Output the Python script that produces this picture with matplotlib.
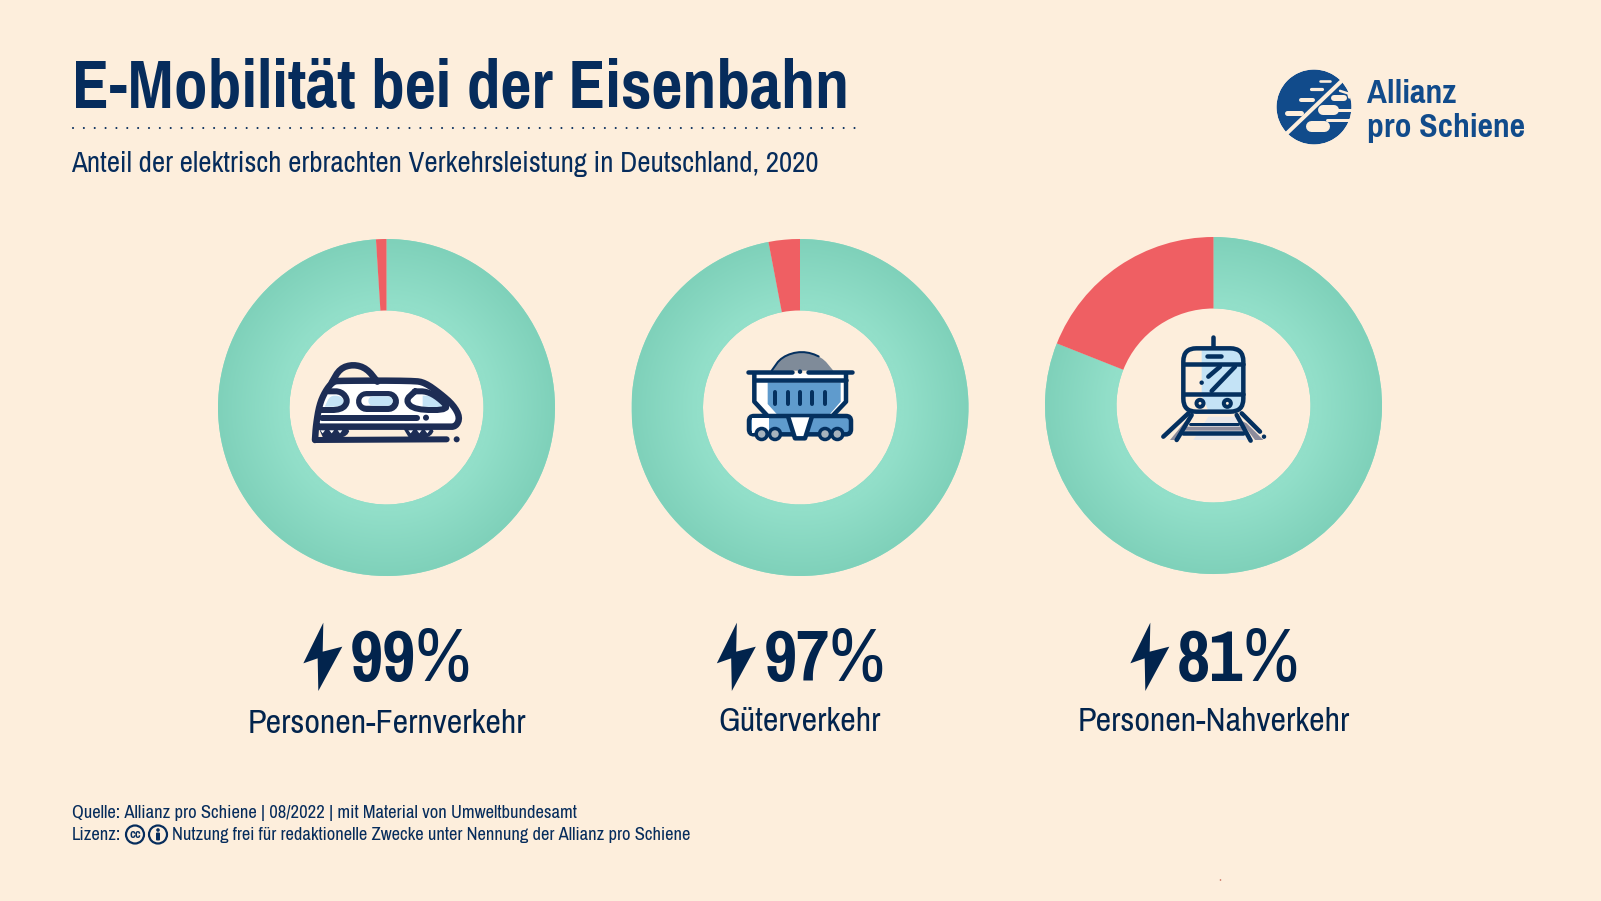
import numpy as np
import matplotlib
matplotlib.use("Agg")
import matplotlib.pyplot as plt
from matplotlib.colors import LinearSegmentedColormap
from matplotlib.patches import Circle, Polygon, FancyBboxPatch

W, H = 1601, 901

title = "E-Mobilität bei der Eisenbahn"
subtitle = "Anteil der elektrisch erbrachten Verkehrsleistung in Deutschland, 2020"
categories = ["Personen-Fernverkehr", "Güterverkehr", "Personen-Nahverkehr"]
electric_share = [99, 97, 81]
source_line = "Quelle: Allianz pro Schiene | 08/2022 | mit Material von Umweltbundesamt"
license_label = "Lizenz:"
license_text = "Nutzung frei für redaktionelle Zwecke unter Nennung der Allianz pro Schiene"

BG = "#fdeedc"
NAVY = "#02244d"
HEAD = "#062c5c"
ICON = "#1d2d55"
ICON2 = "#04305f"
LOGO = "#114b8b"
GREEN_IN = "#92dfc9"
GREEN_OUT = "#7fd1ba"
RED = "#ef5f63"
LIGHT = "#c4e3f6"
BLUE = "#5f9bcd"

REGULAR = ["Archivo Narrow", "Liberation Sans"]
BOLD = ["Pragati Narrow", "Liberation Sans"]
plt.rcParams["font.family"] = REGULAR

centers = [(386.5, 407.5), (800, 407.5), (1213.5, 405.5)]
R_OUT = 168.5
R_IN = 97

fig = plt.figure(figsize=(W / 100, H / 100), dpi=100, facecolor=BG)

# ring charts
grad_cmap = LinearSegmentedColormap.from_list("ring", [GREEN_IN, GREEN_OUT])
for (cx, cy), share in zip(centers, electric_share):
    ax = fig.add_axes([(cx - R_OUT) / W, 1 - (cy + R_OUT) / H, 2 * R_OUT / W, 2 * R_OUT / H])
    wedges, _ = ax.pie(
        [share, 100 - share],
        colors=[GREEN_IN, RED],
        startangle=90,
        counterclock=False,
        radius=1,
        wedgeprops={"width": 1 - R_IN / R_OUT, "linewidth": 0},
    )
    ax.set_xlim(-1, 1)
    ax.set_ylim(-1, 1)
    xx, yy = np.meshgrid(np.linspace(-1, 1, 400), np.linspace(-1, 1, 400))
    rr = np.clip((np.hypot(xx, yy) - 0.62) / 0.38, 0, 1)
    im = ax.imshow(rr, extent=[-1, 1, -1, 1], cmap=grad_cmap, vmin=0, vmax=1, zorder=1.5, aspect="equal")
    im.set_clip_path(wedges[0])
    wedges[1].set_zorder(2)

# overlay in pixel coordinates for texts and icons
ov = fig.add_axes([0, 0, 1, 1], zorder=5)
ov.set_xlim(0, W)
ov.set_ylim(H, 0)
ov.axis("off")
renderer = fig.canvas.get_renderer()


def fit_size(s, width, family):
    # font size that makes s as wide as the reference shows it
    t = ov.text(0, 0, s, fontsize=40, family=family, fontweight="bold" if family is BOLD else "normal")
    w = t.get_window_extent(renderer).width
    t.remove()
    return 40 * width / w


def px(n):
    return n * 0.72


def smooth(pts, rounds=2):
    # corner cutting so the traced icon outlines look curved
    pts = list(pts)
    for _ in range(rounds):
        new = [pts[0]]
        for a, b in zip(pts[:-1], pts[1:]):
            new.append((0.75 * a[0] + 0.25 * b[0], 0.75 * a[1] + 0.25 * b[1]))
            new.append((0.25 * a[0] + 0.75 * b[0], 0.25 * a[1] + 0.75 * b[1]))
        new.append(pts[-1])
        pts = new
    return pts


def line(pts, origin, width, color=ICON, zorder=6):
    xs = [origin[0] + p[0] / 3 for p in pts]
    ys = [origin[1] + p[1] / 3 for p in pts]
    ov.plot(xs, ys, color=color, lw=px(width), solid_capstyle="round", solid_joinstyle="round", zorder=zorder)


def fill(pts, origin, color, zorder=5.5):
    xy = [(origin[0] + p[0] / 3, origin[1] + p[1] / 3) for p in pts]
    ov.add_patch(Polygon(xy, closed=True, facecolor=color, edgecolor="none", zorder=zorder))


def dot(x, y, origin, r, color=ICON, edge=None, lw=0, zorder=6):
    ov.add_patch(Circle((origin[0] + x / 3, origin[1] + y / 3), r, facecolor=color,
                        edgecolor=edge if edge else "none", linewidth=px(lw), zorder=zorder))


def draw_train():
    o = (290, 330)
    body = smooth([(75, 330), (78, 285), (88, 225), (105, 185), (128, 155), (150, 152), (370, 152), (405, 158),
                   (450, 190), (490, 225), (510, 262), (498, 290), (470, 290), (82, 290)])
    fill(body, o, "white")
    hump = smooth([(125, 158), (150, 115), (190, 103), (230, 115), (262, 155)])
    fill(hump, o, BG)
    line(body, o, 6.5)
    line(hump, o, 6.5)
    # left window
    fill(smooth([(105, 228), (120, 197), (150, 197), (165, 215), (150, 230), (105, 230)]), o, LIGHT)
    line(smooth([(115, 184), (155, 184), (175, 213), (155, 240), (92, 240)]), o, 6)
    # middle window
    line([(228, 212), (295, 212)], o, 21, zorder=6)
    line([(228, 212), (295, 212)], o, 9.5, color="white", zorder=6.1)
    line([(250, 212), (295, 212)], o, 9.5, color=LIGHT, zorder=6.2)
    # front window
    fill([(372, 197), (420, 197), (448, 212), (472, 232), (372, 230)], o, "white", zorder=5.6)
    fill([(398, 197), (420, 197), (448, 212), (472, 232), (398, 230)], o, LIGHT, zorder=5.7)
    line(smooth([(375, 184), (410, 184), (445, 203), (482, 240), (375, 240), (345, 212), (375, 184)]), o, 6)
    line([(95, 263), (380, 263)], o, 6)
    dot(408, 263, o, 3)
    # bogies and ground line
    fill(smooth([(85, 292), (185, 292), (165, 325), (100, 325)]), o, ICON)
    fill(smooth([(338, 292), (438, 292), (418, 325), (358, 325)]), o, ICON)
    for x in [98, 125, 150, 362, 388, 412]:
        fill([(x - 7, 301), (x + 7, 301), (x, 310)], o, "white", zorder=6.1)
    line([(78, 330), (470, 328)], o, 6)
    dot(500, 328, o, 3)


def draw_wagon():
    o = (720, 330)
    dome = smooth([(155, 122), (185, 80), (245, 62), (305, 80), (340, 122)])
    fill(dome, o, "#7f8b99")
    line(dome[:-6], o, 2, color=ICON2)
    fill([(105, 130), (376, 130), (376, 215), (340, 255), (140, 255), (105, 215)], o, "white", zorder=5.4)
    fill([(143, 157), (362, 157), (362, 215), (330, 252), (170, 252), (143, 222)], o, BLUE)
    line([(85, 125), (215, 125)], o, 4.5, color=ICON2)
    line([(265, 125), (395, 125)], o, 4.5, color=ICON2)
    dot(240, 125, o, 2.2, color=ICON2)
    line([(105, 150), (378, 150)], o, 4.5, color=ICON2)
    line([(103, 132), (103, 215), (140, 255)], o, 4.5, color=ICON2)
    line([(378, 132), (378, 215), (340, 255)], o, 4.5, color=ICON2)
    for x in [165, 203, 240, 277, 315]:
        line([(x, 187), (x, 222)], o, 4, color=ICON2)
    # chassis
    ov.add_patch(FancyBboxPatch((720 + 87 / 3, 330 + 258 / 3), 306 / 3, 55 / 3, boxstyle="round,pad=0,rounding_size=5",
                                facecolor=BLUE, edgecolor=ICON2, linewidth=px(4.5), zorder=5.8))
    fill([(95, 264), (147, 264), (147, 308), (95, 308)], o, "white", zorder=5.9)
    fill([(205, 262), (275, 262), (255, 325), (225, 325)], o, "white", zorder=6)
    line([(205, 262), (225, 325), (255, 325), (275, 262)], o, 4.5, color=ICON2, zorder=6.1)
    for x in [125, 165, 315, 352]:
        dot(x, 312, o, 5.5, color="#a7b3bd", edge=ICON2, lw=3.5, zorder=6.2)


def draw_tram():
    o = (1140, 320)
    # track shadow
    fill([(160, 360), (205, 290), (285, 290), (320, 360)], o, "#e8e8ea")
    fill([(90, 360), (135, 305), (150, 305), (105, 360)], o, "#8c8c9c")
    fill([(300, 300), (320, 310), (370, 360), (345, 360)], o, "#8c8c9c")
    fill([(135, 320), (305, 320), (310, 332), (130, 332)], o, "#8c8c9c")
    # body
    ov.add_patch(FancyBboxPatch((1140 + 130 / 3, 320 + 85 / 3), 180 / 3, 190 / 3, boxstyle="round,pad=0,rounding_size=13",
                                facecolor=BG, edgecolor="none", zorder=5.6))
    fill([(185, 85), (280, 85), (308, 115), (308, 250), (285, 272), (205, 272), (185, 225)], o, LIGHT, zorder=5.7)
    ov.add_patch(FancyBboxPatch((1140 + 130 / 3, 320 + 85 / 3), 180 / 3, 190 / 3, boxstyle="round,pad=0,rounding_size=13",
                                facecolor="none", edgecolor=ICON2, linewidth=px(4.5), zorder=6))
    line([(220, 50), (220, 82)], o, 4.5, color=ICON2)
    line([(132, 133), (308, 133)], o, 4.5, color=ICON2)
    line([(132, 222), (308, 222)], o, 4.5, color=ICON2)
    line([(200, 108), (243, 108)], o, 4.5, color=ICON2)
    line([(205, 170), (240, 140)], o, 4.5, color=ICON2)
    line([(215, 213), (285, 140)], o, 4.5, color=ICON2)
    dot(185, 188, o, 2.2, color=ICON2)
    dot(180, 250, o, 3.5, color=BG, edge=ICON2, lw=4)
    dot(262, 250, o, 3.5, color=BG, edge=ICON2, lw=4)
    # rails
    line([(155, 285), (110, 360)], o, 4.5, color=ICON2)
    line([(290, 285), (332, 362)], o, 4.5, color=ICON2)
    line([(145, 280), (70, 350)], o, 4.5, color=ICON2)
    line([(305, 280), (360, 335)], o, 4.5, color=ICON2)
    line([(130, 338), (310, 338)], o, 4.5, color=ICON2)
    line([(150, 312), (295, 312)], o, 3, color=ICON2)
    dot(372, 350, o, 2.2, color=ICON2)


def draw_logo():
    c = (1314, 107)
    ov.add_patch(Circle(c, 37.5, facecolor=LOGO, edgecolor="none", zorder=5.5))
    o = (1270, 63.5)
    # left bars and the diagonal
    line([(212, 55), (50, 210)], o, 4, color=BG, zorder=6)
    for a, b, y, w in [(150, 181, 52, 2.6), (124, 156, 77, 3.2), (92, 128, 108, 4), (52, 94, 147, 5)]:
        line([(a, y), (b, y)], o, w, color=BG, zorder=6)
    # right blocks
    line([(192, 104), (222, 104)], o, 6, color=BG, zorder=6)
    line([(160, 140), (192, 140)], o, 10, color=BG, zorder=6)
    line([(122, 188), (162, 188)], o, 11, color=BG, zorder=6)
    line([(210, 82), (235, 90), (238, 102)], o, 2.4, color=BG, zorder=6)
    line([(200, 140), (250, 140)], o, 3, color=BG, zorder=6)
    line([(172, 170), (250, 170)], o, 3, color=BG, zorder=6)
    # cover what sticks out of the circle
    ov.add_patch(Circle(c, 42, facecolor="none", edgecolor=BG, linewidth=px(9), zorder=6.1))
    size = fit_size("pro Schiene", 158, BOLD)
    ov.text(1367, 103, "Allianz", color=LOGO, fontsize=size, family=BOLD, fontweight="bold", va="baseline", zorder=7)
    ov.text(1367, 137, "pro Schiene", color=LOGO, fontsize=size, family=BOLD, fontweight="bold", va="baseline", zorder=7)


def draw_bolt(dx):
    o = (280 + dx, 610)
    fill([(130, 38), (70, 160), (113, 145), (115, 243), (187, 110), (128, 125)], o, NAVY)


# header
ov.text(71.5, 108, title, color=HEAD, fontsize=fit_size(title, 778, BOLD), family=BOLD, fontweight="bold", va="baseline")
ov.plot([73, 855], [127.6, 127.6], color=HEAD, lw=1.5, ls=(0, (0.01, 5.2)), dash_capstyle="round")
ov.text(71.5, 172, subtitle, color=HEAD, fontsize=fit_size(subtitle, 748, REGULAR), va="baseline")

# value labels below each ring
digit_size = fit_size("99", 66, BOLD)
pct_size = fit_size("%", 56, REGULAR)
label_size = fit_size(categories[0], 280, REGULAR)
for i, ((cx, cy), name, share) in enumerate(zip(centers, categories, electric_share)):
    dx = cx - centers[0][0]
    draw_bolt(dx)
    ov.text(416 + dx, 681, str(share), color=NAVY, fontsize=digit_size, family=BOLD, fontweight="bold", ha="right", va="baseline")
    ov.text(415 + dx, 681, "%", color=NAVY, fontsize=pct_size, va="baseline")
    ov.text(cx, 733 if i == 0 else 731, name, color=NAVY, fontsize=label_size, ha="center", va="baseline")

draw_train()
draw_wagon()
draw_tram()
draw_logo()

# footer
foot_size = fit_size(source_line, 505.5, REGULAR)
ov.text(71.5, 818, source_line, color=HEAD, fontsize=foot_size, va="baseline")
ov.text(71.5, 840, license_label, color=HEAD, fontsize=foot_size, va="baseline")
for x in [135, 158]:
    ov.add_patch(Circle((x, 834.5), 9, facecolor=BG, edgecolor=HEAD, linewidth=px(2.2), zorder=6))
ov.text(135, 835, "cc", color=HEAD, fontsize=10, family=BOLD, fontweight="bold", ha="center", va="center", zorder=7)
ov.add_patch(Circle((158, 830), 1.8, facecolor=HEAD, edgecolor="none", zorder=7))
ov.add_patch(FancyBboxPatch((156, 832.5), 4, 8, boxstyle="round,pad=0,rounding_size=1", facecolor=HEAD, edgecolor="none", zorder=7))
ov.text(171.5, 840, license_text, color=HEAD, fontsize=fit_size(license_text, 518.5, REGULAR), va="baseline")

ov.add_patch(Circle((1220.5, 880), 0.8, facecolor="#c86a5a", edgecolor="none"))

fig.savefig("out.png", dpi=100, facecolor=BG)
